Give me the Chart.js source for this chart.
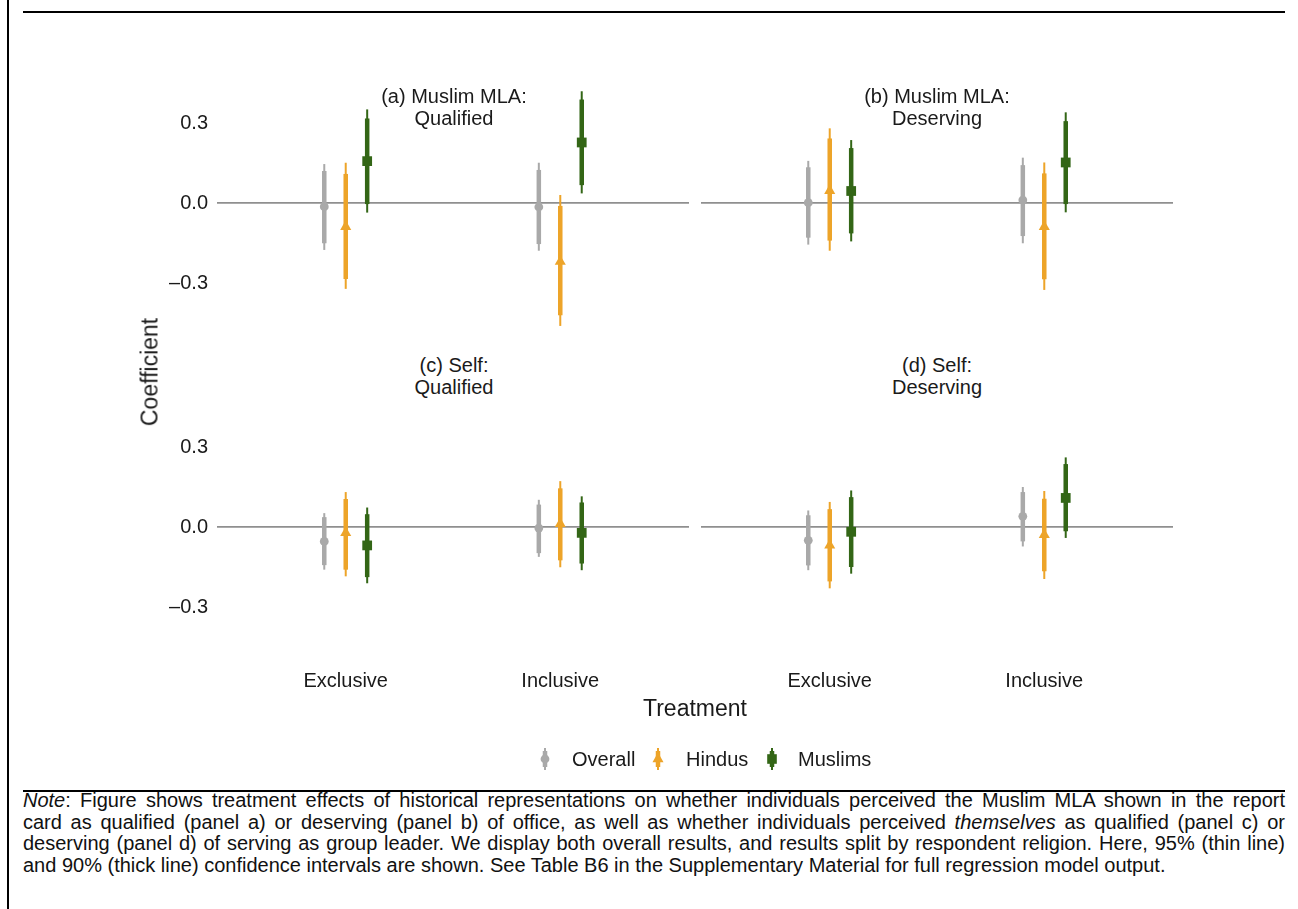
<!DOCTYPE html>
<html>
<head>
<meta charset="utf-8">
<script src="https://cdn.jsdelivr.net/npm/chart.js@4.4.1/dist/chart.umd.min.js"></script>
<style>
  body { margin: 0; background: #fff; font-family: "Liberation Sans", Arial, Helvetica, sans-serif; color: #1a1a1a; }
  #page { position: relative; width: 1298px; height: 909px; overflow: hidden; }
  canvas { position: absolute; }
  .rule { position: absolute; background: #000; }
  .txt { position: absolute; white-space: nowrap; }
  .strip { position: absolute; width: 300px; text-align: center; font-size: 20px; line-height: 21.5px; }
  .note { position: absolute; left: 23px; top: 790px; width: 1262px; font-size: 20px; line-height: 21.7px; color: #111; }
  .note div { white-space: nowrap; }
</style>
</head>
<body>
<div id="page">
  <div class="rule" style="left:7px;top:0;width:2px;height:909px"></div>
  <div class="rule" style="left:23px;top:11px;width:1262px;height:2px"></div>
  <div class="rule" style="left:23px;top:790px;width:1262px;height:2px"></div>

  <canvas id="pa" style="left:110px;top:83px"></canvas>
  <canvas id="pb" style="left:701px;top:83px"></canvas>
  <canvas id="pc" style="left:110px;top:407px"></canvas>
  <canvas id="pd" style="left:701px;top:407px"></canvas>

  <div class="strip" style="left:304px;top:86px">(a) Muslim MLA:<br>Qualified</div>
  <div class="strip" style="left:787px;top:86px">(b) Muslim MLA:<br>Deserving</div>
  <div class="strip" style="left:304px;top:355px">(c) Self:<br>Qualified</div>
  <div class="strip" style="left:787px;top:355px">(d) Self:<br>Deserving</div>

  <div class="txt" style="left:150px;top:372px;font-size:23px;transform:translate(-50%,-50%) rotate(-90deg)">Coefficient</div>
  <div class="txt" style="left:695px;top:708px;font-size:23px;transform:translate(-50%,-50%)">Treatment</div>

  <div id="legend"></div>

  <div class="note" id="note">
    <div class="j"><span><i>Note</i>: Figure shows treatment effects of historical representations on whether individuals perceived the Muslim MLA shown in the report</span></div>
    <div class="j"><span>card as qualified (panel a) or deserving (panel b) of office, as well as whether individuals perceived <i>themselves</i> as qualified (panel c) or</span></div>
    <div class="j"><span>deserving (panel d) of serving as group leader. We display both overall results, and results split by respondent religion. Here, 95% (thin line)</span></div>
    <div><span>and 90% (thick line) confidence intervals are shown. See Table B6 in the Supplementary Material for full regression model output.</span></div>
  </div>
</div>

<script>
const treatments = ['Exclusive', 'Inclusive'];
const groups = ['Overall', 'Hindus', 'Muslims'];
const yTicks = [-0.3, 0, 0.3];

// each row: [lo95, lo90, estimate, hi90, hi95], Exclusive then Inclusive
const aOverall = [[-0.176, -0.151, -0.014, 0.120, 0.146], [-0.179, -0.154, -0.015, 0.124, 0.151]];
const aHindus  = [[-0.322, -0.285, -0.089, 0.109, 0.151], [-0.461, -0.421, -0.220, -0.011, 0.030]];
const aMuslims = [[-0.036, -0.004, 0.157, 0.317, 0.351], [0.036, 0.067, 0.227, 0.388, 0.419]];

const bOverall = [[-0.156, -0.130, 0.001, 0.134, 0.158], [-0.151, -0.124, 0.011, 0.142, 0.170]];
const bHindus  = [[-0.179, -0.141, 0.046, 0.242, 0.280], [-0.326, -0.286, -0.089, 0.111, 0.152]];
const bMuslims = [[-0.144, -0.114, 0.045, 0.206, 0.236], [-0.035, -0.004, 0.152, 0.307, 0.340]];

const cOverall = [[-0.160, -0.143, -0.054, 0.037, 0.052], [-0.112, -0.098, -0.004, 0.084, 0.102]];
const cHindus  = [[-0.185, -0.160, -0.022, 0.105, 0.131], [-0.151, -0.125, 0.012, 0.145, 0.172]];
const cMuslims = [[-0.211, -0.188, -0.069, 0.048, 0.073], [-0.162, -0.137, -0.022, 0.092, 0.115]];

const dOverall = [[-0.162, -0.144, -0.050, 0.044, 0.062], [-0.073, -0.054, 0.040, 0.131, 0.150]];
const dHindus  = [[-0.230, -0.204, -0.069, 0.067, 0.094], [-0.195, -0.166, -0.029, 0.106, 0.135]];
const dMuslims = [[-0.175, -0.150, -0.018, 0.112, 0.137], [-0.041, -0.016, 0.109, 0.236, 0.261]];

const colors = ['#a9a9a9', '#eda429', '#336616'];
const shapes = ['circle', 'triangle', 'rect'];
const radii = [4.4, 6.4, 6.9];
const dodge = [-0.1, 0, 0.1];

Chart.defaults.font.family = "'Liberation Sans', Arial, Helvetica, sans-serif";
Chart.defaults.font.size = 20;
Chart.defaults.color = '#1a1a1a';

function fmtTick(v) {
    if (v === 0) return '0.0';
    return (v < 0 ? '\u2013' : '') + Math.abs(v).toFixed(1);
}

function noPadding(axis) {
    axis.paddingTop = 0;
    axis.paddingBottom = 0;
    axis.paddingLeft = 0;
    axis.paddingRight = 0;
}

function makePanel(id, rows, showY, showX) {
    const cv = document.getElementById(id);
    const axisW = showY ? 107 : 0;
    cv.width = 472 + axisW;
    cv.height = showX ? 300 : 260;

    const datasets = [];
    rows.forEach(function (row, gi) {
        const xs = [1 + dodge[gi], 2 + dodge[gi]];
        datasets.push({
            type: 'bar', label: groups[gi] + ' 95%',
            data: row.map((r, ti) => ({x: xs[ti], y: [r[0], r[4]]})),
            backgroundColor: colors[gi], borderWidth: 0,
            grouped: false, maxBarThickness: 2, order: 2
        });
        datasets.push({
            type: 'bar', label: groups[gi] + ' 90%',
            data: row.map((r, ti) => ({x: xs[ti], y: [r[1], r[3]]})),
            backgroundColor: colors[gi], borderWidth: 0,
            grouped: false, maxBarThickness: 4.5, order: 1
        });
        datasets.push({
            type: 'scatter', label: groups[gi],
            data: row.map((r, ti) => ({x: xs[ti], y: r[2]})),
            backgroundColor: colors[gi], borderWidth: 0,
            pointStyle: shapes[gi], pointRadius: radii[gi], order: 0
        });
    });

    return new Chart(cv, {
        type: 'bar',
        data: {datasets: datasets},
        options: {
            responsive: false,
            animation: false,
            events: [],
            layout: {padding: 0, autoPadding: false},
            plugins: {legend: {display: false}, tooltip: {enabled: false}},
            scales: {
                x: {
                    type: 'linear', min: 0.4, max: 2.6,
                    offset: false,
                    display: showX,
                    grid: {display: false, offset: false},
                    border: {display: false},
                    afterBuildTicks: axis => { axis.ticks = treatments.map((t, i) => ({value: i + 1})); },
                    afterFit: axis => { axis.height = showX ? 40 : 0; noPadding(axis); },
                    ticks: {padding: -6, maxRotation: 0, callback: v => treatments[v - 1]}
                },
                y: {
                    type: 'linear', min: -0.525, max: 0.45,
                    border: {display: false},
                    grid: {
                        drawTicks: false,
                        color: c => c.tick && c.tick.value === 0 ? '#8f8f8f' : 'rgba(0,0,0,0)',
                        lineWidth: 1.8
                    },
                    afterBuildTicks: axis => { axis.ticks = yTicks.map(v => ({value: v})); },
                    afterFit: axis => { axis.width = axisW; noPadding(axis); },
                    ticks: {display: showY, padding: 9, callback: v => fmtTick(v)}
                }
            }
        }
    });
}

makePanel('pa', [aOverall, aHindus, aMuslims], true, false);
makePanel('pb', [bOverall, bHindus, bMuslims], false, false);
makePanel('pc', [cOverall, cHindus, cMuslims], true, true);
makePanel('pd', [dOverall, dHindus, dMuslims], false, true);

// legend keys
const legendX = [545, 658, 772];
const legendTextX = [572, 686, 798];
const leg = document.getElementById('legend');
groups.forEach(function (g, gi) {
    const c = colors[gi];
    let mark;
    if (gi === 0) mark = '<circle cx="8" cy="11" r="4.4" fill="' + c + '"/>';
    else if (gi === 1) mark = '<polygon points="8,4.6 13.5,14.2 2.5,14.2" fill="' + c + '"/>';
    else mark = '<rect x="3.2" y="6.2" width="9.6" height="9.6" fill="' + c + '"/>';
    leg.insertAdjacentHTML('beforeend',
        '<svg style="position:absolute;left:' + (legendX[gi] - 8) + 'px;top:748px" width="16" height="22">' +
        '<rect x="7" y="0" width="2" height="22" fill="' + c + '"/>' +
        '<rect x="5.75" y="3" width="4.5" height="16" fill="' + c + '"/>' + mark + '</svg>' +
        '<div class="txt" style="left:' + legendTextX[gi] + 'px;top:747px;font-size:20px;line-height:24px">' + g + '</div>');
});

// justify the note lines by word spacing (also lets a too long line shrink a little)
document.querySelectorAll('#note .j span').forEach(function (sp) {
    const spaces = (sp.textContent.match(/ /g) || []).length;
    const extra = 1262 - sp.getBoundingClientRect().width;
    sp.style.wordSpacing = (extra / spaces) + 'px';
});
</script>
</body>
</html>
